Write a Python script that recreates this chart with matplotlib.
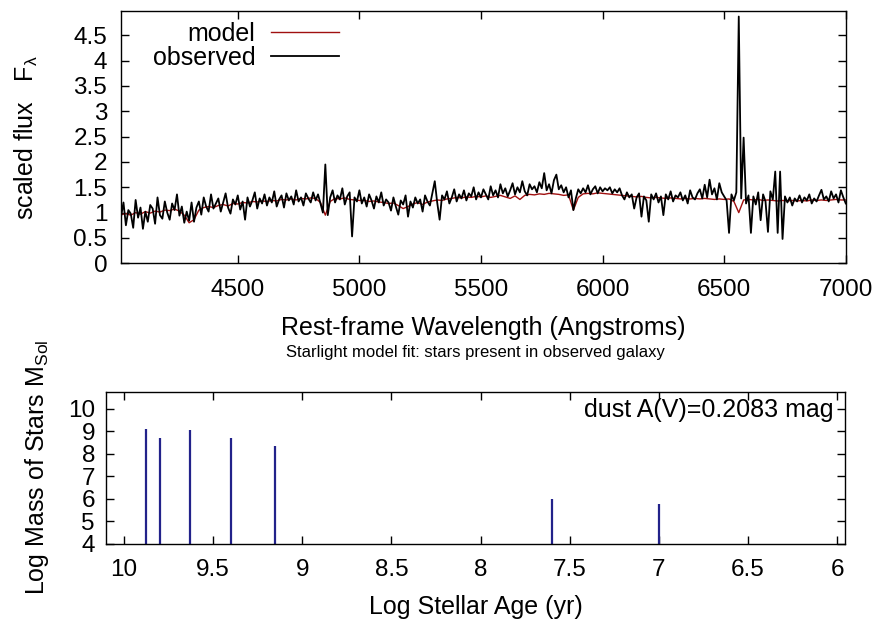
"""Starlight fit: observed vs model spectrum and stellar mass by age."""

import matplotlib

matplotlib.use("Agg")
import matplotlib.pyplot as plt
import numpy as np

# observed spectrum, read every 10 A from 4020 to 7000
wavelength = np.arange(4020, 7001, 10)
observed = [
    0.92, 1.20, 0.75, 1.05, 0.98, 0.70, 1.25, 0.90, 1.10, 0.68,
    1.02, 0.82, 1.15, 1.08, 0.78, 1.30, 0.95, 0.88, 1.22, 1.00,
    0.86, 1.18, 1.05, 1.36, 0.94, 1.12, 0.80, 1.02, 0.84, 1.20,
    0.82, 1.10, 1.22, 0.96, 1.30, 1.12, 1.02, 1.36, 1.08, 1.18,
    1.28, 1.02, 1.20, 1.38, 1.10, 0.98, 1.26, 1.16, 1.34, 1.06,
    1.22, 0.86, 1.30, 1.12, 1.24, 1.40, 1.08, 1.28, 1.18, 1.36,
    1.14, 1.30, 1.20, 1.42, 1.12, 1.26, 1.34, 1.10, 1.38, 1.24,
    1.32, 1.16, 1.44, 1.22, 1.30, 1.14, 1.38, 1.28, 1.20, 1.40,
    1.24, 1.36, 1.18, 1.00, 1.95, 0.95, 1.30, 1.44, 1.20, 1.34,
    1.26, 1.48, 1.16, 1.32, 1.40, 0.53, 1.30, 1.22, 1.44, 1.18,
    1.30, 1.12, 1.36, 1.24, 1.08, 1.32, 1.20, 1.40, 1.14, 1.26,
    1.20, 1.04, 1.30, 1.12, 0.96, 1.24, 1.16, 1.34, 0.92, 1.22,
    1.10, 1.30, 1.18, 1.26, 1.02, 1.34, 1.22, 1.14, 1.38, 1.62,
    1.20, 0.86, 1.34, 1.26, 1.42, 1.18, 1.30, 1.46, 1.22, 1.36,
    1.28, 1.44, 1.24, 1.38, 1.32, 1.50, 1.26, 1.40, 1.30, 1.46,
    1.36, 1.26, 1.52, 1.34, 1.44, 1.30, 1.56, 1.38, 1.48, 1.32,
    1.44, 1.58, 1.36, 1.50, 1.40, 1.62, 1.42, 1.34, 1.56, 1.46,
    1.52, 1.40, 1.60, 1.48, 1.78, 1.44, 1.56, 1.38, 1.64, 1.75,
    1.46, 1.54, 1.40, 1.50, 1.30, 1.44, 1.05, 1.28, 1.46, 1.38,
    1.48, 1.40, 1.54, 1.36, 1.46, 1.52, 1.38, 1.50, 1.42, 1.48,
    1.44, 1.50, 1.38, 1.46, 1.40, 1.48, 1.34, 1.26, 1.40, 1.30,
    1.36, 1.08, 1.30, 1.38, 0.92, 1.32, 1.24, 0.82, 1.36, 1.26,
    1.38, 1.20, 1.32, 0.95, 1.36, 1.26, 1.42, 1.22, 1.34, 1.30,
    1.40, 1.24, 1.34, 1.18, 1.44, 1.30, 1.26, 1.38, 1.46, 1.28,
    1.55, 1.30, 1.65, 1.36, 1.48, 1.26, 1.58, 1.40, 1.32, 1.24,
    0.60, 1.36, 1.24, 1.40, 4.87, 1.28, 2.48, 1.18, 1.34, 0.60,
    1.32, 1.16, 1.40, 0.85, 1.36, 1.22, 0.62, 1.42, 1.26, 1.81,
    0.60, 1.81, 0.48, 1.32, 1.20, 1.30, 1.14, 1.28, 1.22, 1.34,
    1.20, 1.30, 1.24, 1.36, 1.18, 1.28, 1.22, 1.34, 1.45, 1.26,
    1.32, 1.22, 1.42, 1.28, 1.36, 1.20, 1.44, 1.30, 1.18,
]

# model spectrum, read every 20 A
model_wavelength = np.arange(4020, 7001, 20)
model = [
    0.96, 0.98, 0.95, 1.00, 0.97, 1.02, 0.99, 1.03, 1.01, 1.05,
    1.04, 1.07, 1.03, 0.95, 0.80, 0.86, 1.05, 1.10, 1.12, 1.10,
    1.14, 1.16, 1.13, 1.18, 1.17, 1.20, 1.19, 1.22, 1.21, 1.23,
    1.22, 1.24, 1.23, 1.26, 1.25, 1.27, 1.25, 1.28, 1.27, 1.29,
    1.28, 1.20, 0.95, 1.22, 1.28, 1.27, 1.29, 1.26, 1.25, 1.24,
    1.24, 1.22, 1.23, 1.21, 1.20, 1.18, 1.19, 1.14, 1.08, 1.12,
    1.17, 1.20, 1.16, 1.21, 1.23, 1.25, 1.24, 1.27, 1.28, 1.30,
    1.29, 1.31, 1.30, 1.32, 1.31, 1.33, 1.30, 1.32, 1.34, 1.31,
    1.28, 1.33, 1.26, 1.34, 1.36, 1.35, 1.37, 1.36, 1.38, 1.37,
    1.36, 1.34, 1.35, 1.05, 1.30, 1.37, 1.38, 1.37, 1.39, 1.38,
    1.37, 1.36, 1.35, 1.34, 1.33, 1.32, 1.31, 1.32, 1.30, 1.29,
    1.30, 1.29, 1.28, 1.29, 1.28, 1.27, 1.28, 1.27, 1.28, 1.27,
    1.28, 1.27, 1.26, 1.27, 1.26, 1.27, 1.22, 1.00, 1.25, 1.26,
    1.25, 1.26, 1.24, 1.25, 1.24, 1.23, 1.24, 1.23, 1.24, 1.23,
    1.24, 1.23, 1.25, 1.24, 1.25, 1.24, 1.25, 1.26, 1.25, 1.25,
]

# stellar populations: log age (yr) and log mass (M_sol)
log_age = [9.875, 9.80, 9.628, 9.398, 9.155, 7.60, 7.00]
log_mass = [9.10, 8.72, 9.06, 8.72, 8.35, 6.00, 5.78]
dust_av = 0.2083

plt.rcParams["font.family"] = ["Liberation Sans", "DejaVu Sans"]
plt.rcParams["mathtext.fontset"] = "custom"
plt.rcParams["mathtext.rm"] = "Liberation Sans"
plt.rcParams["font.size"] = 18

fig = plt.figure(figsize=(8.9, 6.23), dpi=100)
ax1 = fig.add_axes([0.136, 0.5774, 0.8143, 0.405])
ax2 = fig.add_axes([0.1191, 0.1273, 0.8303, 0.244])

ax1.plot(model_wavelength, model, color="#a01010", lw=1.0, label="model")
ax1.plot(wavelength, observed, color="black", lw=1.3, label="observed")
ax1.set_xlim(4020, 7000)
ax1.set_ylim(0, 4.98)
ax1.set_xticks([4500, 5000, 5500, 6000, 6500, 7000])
ax1.set_yticks([0, 0.5, 1, 1.5, 2, 2.5, 3, 3.5, 4, 4.5])
ax1.set_yticklabels(["0", "0.5", "1", "1.5", "2", "2.5", "3", "3.5", "4", "4.5"])
ax1.tick_params(axis="x", pad=11)
ax1.tick_params(axis="y", pad=10)
ax1.set_xlabel("Rest-frame Wavelength (Angstroms)", labelpad=11)
ax1.set_ylabel(r"scaled flux   F$_\mathregular{λ}$", labelpad=24)
ax1.legend(
    loc="upper left",
    bbox_to_anchor=(0.044, 0.958),
    frameon=False,
    markerfirst=False,
    handlelength=2.75,
    handletextpad=0.6,
    labelspacing=0.0,
    borderpad=0,
    borderaxespad=0,
)

ax2.vlines(log_age, 0, log_mass, color="#22228a", lw=1.6)
ax2.set_xlim(10.1, 5.957)
ax2.set_ylim(4, 10.77)
ax2.set_xticks([10, 9.5, 9, 8.5, 8, 7.5, 7, 6.5, 6])
ax2.set_xticklabels(["10", "9.5", "9", "8.5", "8", "7.5", "7", "6.5", "6"])
ax2.set_yticks([4, 5, 6, 7, 8, 9, 10])
ax2.tick_params(axis="x", pad=11)
ax2.tick_params(axis="y", pad=8)
ax2.set_xlabel("Log Stellar Age (yr)", labelpad=10)
ax2.set_ylabel(r"Log Mass of Stars M$_\mathregular{Sol}$", labelpad=12)
ax2.set_title(
    "Starlight model fit: stars present in observed galaxy", fontsize=12, pad=25
)
ax2.text(
    0.984, 0.88, f"dust A(V)={dust_av:.4f} mag",
    transform=ax2.transAxes, ha="right", va="center",
)

for ax in (ax1, ax2):
    ax.tick_params(
        direction="in", length=6, width=1, top=True, right=True, labelsize=17.5
    )
    for spine in ax.spines.values():
        spine.set_linewidth(1.0)

fig.savefig("out.png", dpi=100)
